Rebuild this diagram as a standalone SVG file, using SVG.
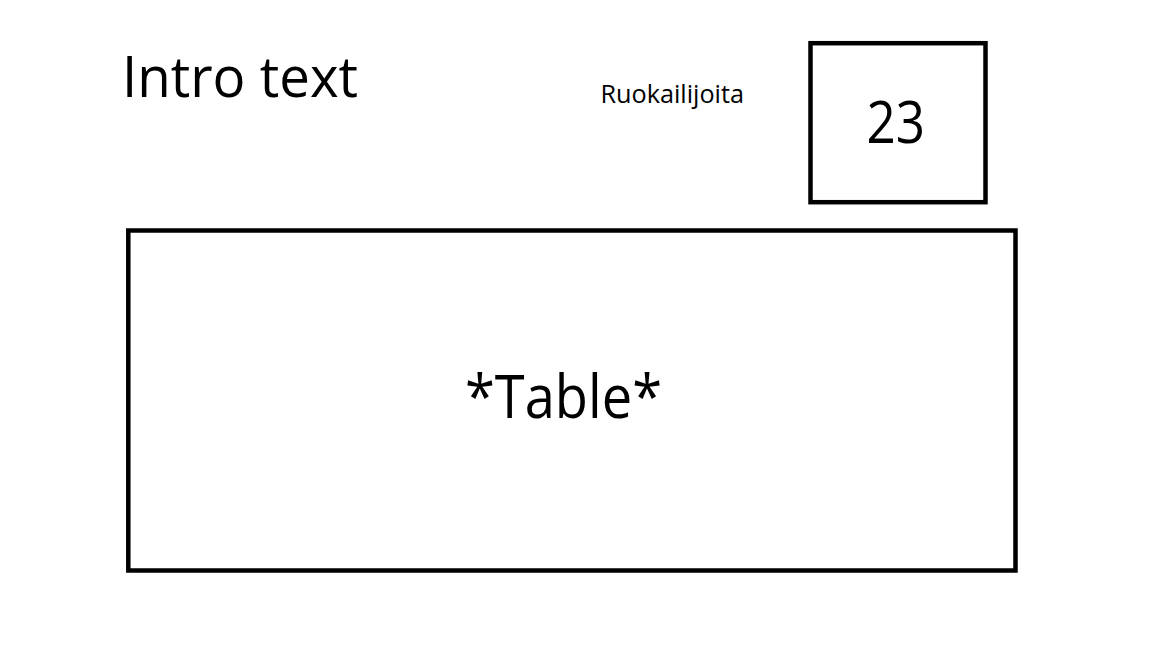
<svg xmlns="http://www.w3.org/2000/svg" width="1152" height="648" viewBox="0 0 1152 648">
  <style>
    .box { fill: none; stroke: #000; stroke-width: 4.5; }
    .t { font-family: "Open Sans", "Noto Sans", "Liberation Sans", sans-serif; fill: #000; }
  </style>
  <rect width="1152" height="648" fill="#fff"/>
  <g id="intro">
    <text class="t" x="122" y="97" font-size="56" textLength="236" lengthAdjust="spacingAndGlyphs">Intro text</text>
  </g>
  <g id="label-ruokailijoita">
    <text class="t" x="600.5" y="103.3" font-size="25.5" textLength="143.5" lengthAdjust="spacingAndGlyphs">Ruokailijoita</text>
  </g>
  <g id="count-box">
    <rect class="box" x="810.5" y="43.2" width="175" height="159"/>
    <text class="t" x="866.5" y="142.7" font-size="59" textLength="58.5" lengthAdjust="spacingAndGlyphs">23</text>
  </g>
  <g id="table-box">
    <rect class="box" x="128.3" y="230.5" width="887.2" height="340"/>
    <text class="t" x="465" y="418.3" font-size="60" textLength="197" lengthAdjust="spacingAndGlyphs">*Table*</text>
  </g>
  <g id="connectors"></g>
</svg>
